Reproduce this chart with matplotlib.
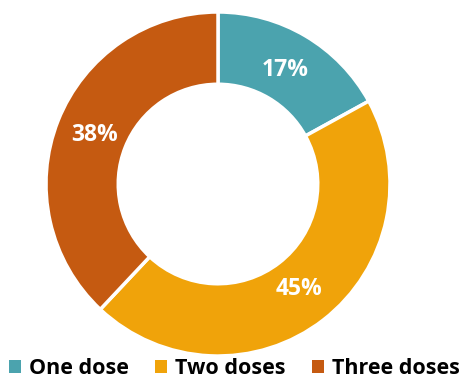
import matplotlib
matplotlib.use("Agg")
import matplotlib.pyplot as plt
from matplotlib.patches import Patch
import numpy as np

labels = ["One dose", "Two doses", "Three doses"]
values = [17, 45, 38]
colors = ["#4BA3AE", "#F0A30A", "#C55A11"]

plt.rcParams['font.family'] = ['Open Sans', 'DejaVu Sans']

W, H = 465, 383
fig = plt.figure(figsize=(W/100, H/100), dpi=100)
cx, cy, R = 218, 184, 172
ax = fig.add_axes([(cx-R)/W, (H-cy-R)/H, 2*R/W, 2*R/H])
wedges, texts = ax.pie(values, colors=colors, startangle=90, counterclock=False,
                       radius=1, wedgeprops=dict(width=0.42, edgecolor='white', linewidth=2.5))
ang = 90.0
for v in values:
    mid = ang - v*3.6/2
    r = 0.77
    ax.text(r*np.cos(np.radians(mid)), r*np.sin(np.radians(mid)), f"{v}%",
            ha='center', va='center', color='white', fontsize=16.5, fontweight='bold')
    ang -= v*3.6
ax.set_xlim(-1, 1); ax.set_ylim(-1, 1)
ax.axis('off')

handles = [Patch(facecolor=c, edgecolor='none') for c in colors]
leg = fig.legend(handles, labels, loc='center', bbox_to_anchor=(0.5 + 2/W, 1-369/H), ncol=3,
                 frameon=False, prop=dict(size=15.5, weight='bold'),
                 handlelength=0.55, handleheight=0.55, handletextpad=0.4, columnspacing=1.2)
fig.savefig("out.png", dpi=100)
